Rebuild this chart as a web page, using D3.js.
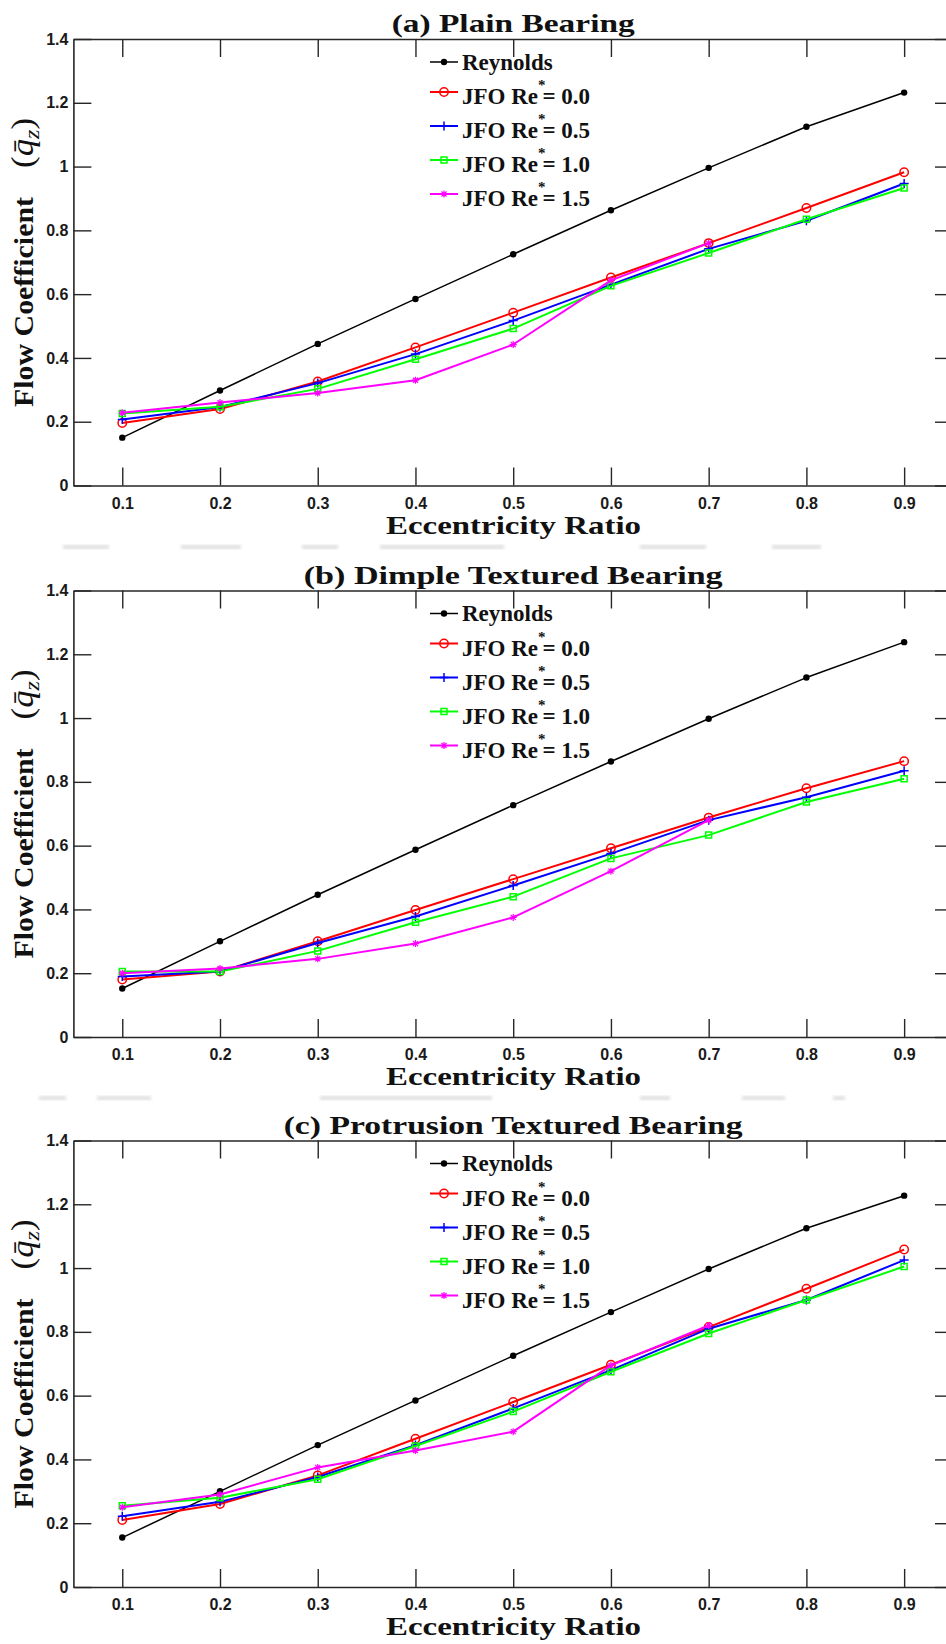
<!DOCTYPE html>
<html>
<head>
<meta charset="utf-8">
<script src="https://cdn.jsdelivr.net/npm/d3@7"></script>
<style>
  html, body { margin: 0; padding: 0; background: #fff; }
  svg { display: block; }
</style>
</head>
<body>
<div id="chart"></div>
<script>
// eccentricity ratio values (x axis)
const ecc = [0.1, 0.2, 0.3, 0.4, 0.5, 0.6, 0.7, 0.8, 0.9]
const yTicks = [0, 0.2, 0.4, 0.6, 0.8, 1, 1.2, 1.4]

const titles = ['(a) Plain Bearing', '(b) Dimple Textured Bearing', '(c) Protrusion Textured Bearing']
const legendLabels = ['Reynolds', 'JFO Re*= 0.0', 'JFO Re*= 0.5', 'JFO Re*= 1.0', 'JFO Re*= 1.5']

// (a) plain bearing
const reynoldsA = [0.150, 0.298, 0.444, 0.585, 0.725, 0.863, 0.996, 1.125, 1.232]
const jfo00A = [0.196, 0.240, 0.326, 0.433, 0.542, 0.652, 0.760, 0.870, 0.982]
const jfo05A = [0.207, 0.246, 0.321, 0.412, 0.517, 0.630, 0.742, 0.830, 0.947]
const jfo10A = [0.226, 0.247, 0.303, 0.396, 0.492, 0.626, 0.729, 0.835, 0.933]
const jfo15A = [0.228, 0.260, 0.290, 0.330, 0.442, 0.643, 0.760]

// (b) dimple textured bearing
const reynoldsB = [0.152, 0.300, 0.446, 0.587, 0.727, 0.864, 0.998, 1.127, 1.238]
const jfo00B = [0.180, 0.205, 0.300, 0.398, 0.495, 0.592, 0.688, 0.780, 0.865]
const jfo05B = [0.190, 0.205, 0.295, 0.378, 0.475, 0.575, 0.680, 0.752, 0.835]
const jfo10B = [0.205, 0.205, 0.270, 0.360, 0.440, 0.560, 0.633, 0.737, 0.810]
const jfo15B = [0.200, 0.215, 0.245, 0.293, 0.375, 0.520, 0.680]

// (c) protrusion textured bearing
const reynoldsC = [0.155, 0.300, 0.445, 0.585, 0.725, 0.862, 0.997, 1.125, 1.227]
const jfo00C = [0.210, 0.260, 0.350, 0.465, 0.580, 0.697, 0.815, 0.935, 1.058]
const jfo05C = [0.222, 0.267, 0.345, 0.445, 0.560, 0.680, 0.810, 0.900, 1.025]
const jfo10C = [0.255, 0.280, 0.338, 0.442, 0.550, 0.675, 0.795, 0.900, 1.005]
const jfo15C = [0.250, 0.290, 0.375, 0.428, 0.487, 0.695, 0.820]

const panelSeries = [
  [reynoldsA, jfo00A, jfo05A, jfo10A, jfo15A],
  [reynoldsB, jfo00B, jfo05B, jfo10B, jfo15B],
  [reynoldsC, jfo00C, jfo05C, jfo10C, jfo15C]
]

const colors = ['#000000', '#ff0000', '#0000ff', '#00ff00', '#ff00ff']
const markers = ['dot', 'circle', 'plus', 'square', 'star']
const lineWidths = [1.5, 2, 2, 2, 2]

// layout
const W = 946
const H = 1644
const panelTops = [39, 590.5, 1140.5]
const plotH = 446.5
const xLeft = 73.4
const xRight = 953
const tickLen = 18
const titleWidths = [243, 419, 459]

// faint grey scan artefacts between panels (decoration)
const smudges = [
  { y: 545, segs: [[63, 109], [181, 241], [302, 338], [380, 504], [640, 706], [772, 821]] },
  { y: 1096, segs: [[39, 66], [97, 151], [320, 492], [640, 670], [742, 785], [833, 845]] }
]

const svg = d3.select('#chart').append('svg')
  .attr('width', W)
  .attr('height', H)
  .style('background', '#fff')

const defs = svg.append('defs')
defs.append('filter').attr('id', 'soft')
  .append('feGaussianBlur').attr('stdDeviation', 1.4)

smudges.forEach(s => {
  svg.append('g').attr('filter', 'url(#soft)')
    .selectAll('rect')
    .data(s.segs)
    .enter()
    .append('rect')
    .attr('x', d => d[0])
    .attr('y', s.y)
    .attr('width', d => d[1] - d[0])
    .attr('height', 4)
    .attr('fill', '#e0e0e0')
})

const x = d3.scaleLinear().domain([0.05, 0.95]).range([xLeft, xRight])

function markerPath (type) {
  if (type === 'plus') return 'M-4.5,0H4.5M0,-4.5V4.5'
  if (type === 'square') return 'M-3,-3H3V3H-3Z'
  if (type === 'star') return 'M-3.5,0H3.5M0,-3.5V3.5M-2.5,-2.5L2.5,2.5M-2.5,2.5L2.5,-2.5'
  return null
}

function drawMarker (sel, type, color) {
  if (type === 'dot') {
    sel.append('circle').attr('r', 3.2).attr('fill', color)
  } else if (type === 'circle') {
    sel.append('circle').attr('r', 4.2).attr('fill', 'none')
      .attr('stroke', color).attr('stroke-width', 1.5)
  } else {
    sel.append('path').attr('d', markerPath(type)).attr('fill', 'none')
      .attr('stroke', color).attr('stroke-width', type === 'star' ? 1.2 : 1.5)
  }
}

function drawPanel (p) {
  const top = panelTops[p]
  const bottom = top + plotH
  const y = d3.scaleLinear().domain([0, 1.4]).range([bottom, top])
  const g = svg.append('g')

  // axes
  const axisColor = '#262626'
  const xb = g.append('g')
    .attr('transform', `translate(0,${bottom})`)
    .call(d3.axisBottom(x).tickValues(ecc).tickSizeInner(-tickLen).tickSizeOuter(0)
      .tickPadding(12).tickFormat(d3.format('.1f')))
  const xt = g.append('g')
    .attr('transform', `translate(0,${top})`)
    .call(d3.axisTop(x).tickValues(ecc).tickSizeInner(-tickLen).tickSizeOuter(0).tickFormat(''))
  const yl = g.append('g')
    .attr('transform', `translate(${xLeft},0)`)
    .call(d3.axisLeft(y).tickValues(yTicks).tickSizeInner(-tickLen).tickSizeOuter(0)
      .tickPadding(5).tickFormat(d3.format('~g')))
  const yr = g.append('g')
    .attr('transform', `translate(${xRight},0)`)
    .call(d3.axisRight(y).tickValues(yTicks).tickSizeInner(-tickLen).tickSizeOuter(0).tickFormat(''))

  ;[xb, xt, yl, yr].forEach(a => {
    a.select('.domain').attr('stroke', axisColor).attr('stroke-width', 1.6)
    a.selectAll('.tick line').attr('stroke', axisColor).attr('stroke-width', 1.4)
    a.selectAll('.tick text')
      .attr('fill', '#1a1a1a')
      .style('font-family', '"Liberation Sans", Arial, sans-serif')
      .style('font-weight', 'bold')
      .style('font-size', '16px')
  })

  // series lines and markers
  panelSeries[p].forEach((vals, s) => {
    const pts = vals.map((v, i) => [ecc[i], v])
    g.append('path')
      .datum(pts)
      .attr('fill', 'none')
      .attr('stroke', colors[s])
      .attr('stroke-width', lineWidths[s])
      .attr('stroke-linejoin', 'round')
      .attr('d', d3.line().x(d => x(d[0])).y(d => y(d[1])))

    g.append('g').selectAll('g')
      .data(pts)
      .enter()
      .append('g')
      .attr('transform', d => `translate(${x(d[0])},${y(d[1])})`)
      .each(function () { drawMarker(d3.select(this), markers[s], colors[s]) })
  })

  // legend (no box)
  const leg = g.append('g')
  legendLabels.forEach((label, i) => {
    const ly = top + (i === 0 ? 23 : 19 + 34 * i)
    const row = leg.append('g')
    row.append('line')
      .attr('x1', 430).attr('x2', 458)
      .attr('y1', ly).attr('y2', ly)
      .attr('stroke', colors[i]).attr('stroke-width', lineWidths[i])
    drawMarker(row.append('g').attr('transform', `translate(444,${ly})`), markers[i], colors[i])

    const t = row.append('text')
      .attr('x', 462)
      .attr('y', ly + (i === 0 ? 7.5 : 12))
      .style('font-family', '"Liberation Serif", "Times New Roman", serif')
      .style('font-weight', 'bold')
      .style('font-size', '23px')
      .attr('fill', '#111')
    const parts = label.split('*')
    t.append('tspan').text(parts[0])
    if (parts.length > 1) {
      t.append('tspan').attr('dy', -14).style('font-size', '15px').text('*')
      t.append('tspan').attr('dy', 14).attr('dx', -3).text(parts[1])
    }
  })

  // title
  g.append('text')
    .attr('x', (xLeft + xRight) / 2)
    .attr('y', top - 7)
    .attr('text-anchor', 'middle')
    .attr('textLength', titleWidths[p])
    .attr('lengthAdjust', 'spacingAndGlyphs')
    .style('font-family', '"Liberation Serif", "Times New Roman", serif')
    .style('font-weight', 'bold')
    .style('font-size', '25px')
    .attr('fill', '#111')
    .text(titles[p])

  // x label
  g.append('text')
    .attr('x', 513.5)
    .attr('y', bottom + 48)
    .attr('text-anchor', 'middle')
    .attr('textLength', 255)
    .attr('lengthAdjust', 'spacingAndGlyphs')
    .style('font-family', '"Liberation Serif", "Times New Roman", serif')
    .style('font-weight', 'bold')
    .style('font-size', '26px')
    .attr('fill', '#111')
    .text('Eccentricity Ratio')

  // y label, rotated
  const yLab = g.append('g').attr('transform', `translate(33,${top})rotate(-90)`)
  yLab.append('text')
    .attr('x', -368)
    .attr('y', 0)
    .attr('textLength', 210)
    .attr('lengthAdjust', 'spacingAndGlyphs')
    .style('font-family', '"Liberation Serif", "Times New Roman", serif')
    .style('font-weight', 'bold')
    .style('font-size', '27px')
    .attr('fill', '#111')
    .text('Flow Coefficient')
  const q = yLab.append('text')
    .attr('x', -129)
    .attr('y', 0)
    .attr('textLength', 50)
    .attr('lengthAdjust', 'spacingAndGlyphs')
    .style('font-family', '"Liberation Serif", "Times New Roman", serif')
    .style('font-size', '32px')
    .attr('fill', '#111')
  q.append('tspan').text('(')
  q.append('tspan').style('font-style', 'italic').text('q\u0304')
  q.append('tspan').attr('dy', 6).style('font-style', 'italic').style('font-size', '22px').text('z')
  q.append('tspan').attr('dy', -6).text(')')
}

titles.forEach((t, p) => drawPanel(p))
</script>
</body>
</html>
